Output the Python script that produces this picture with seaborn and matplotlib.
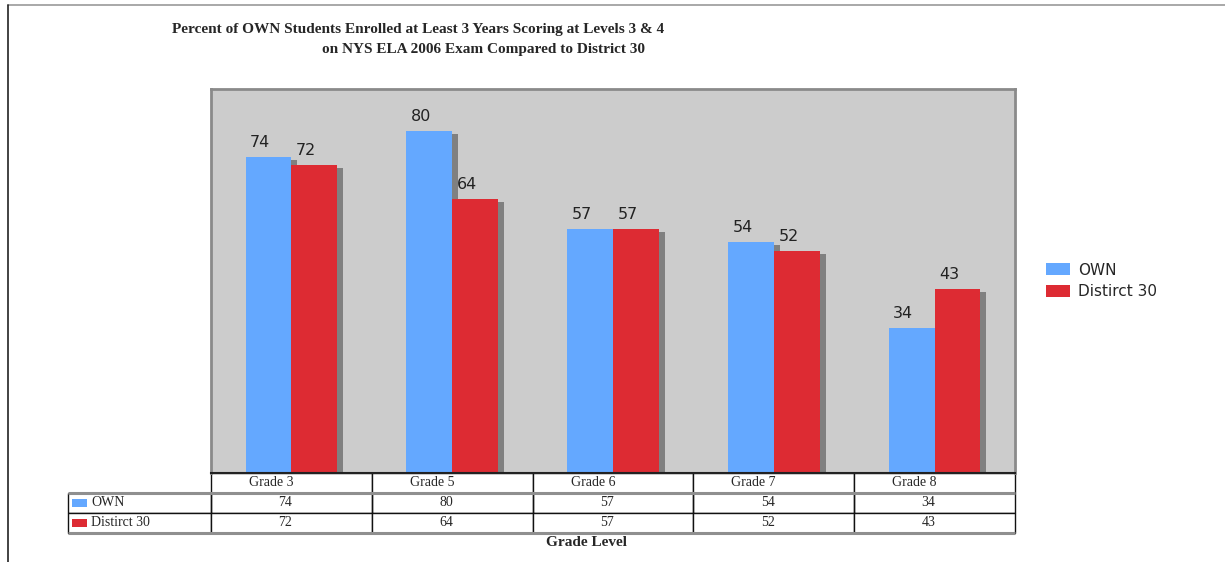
import pandas as pd
import matplotlib
matplotlib.use("Agg")
import matplotlib.pyplot as plt
import matplotlib.patheffects as pe
from matplotlib.patches import Rectangle
from matplotlib.lines import Line2D
import seaborn as sns

grades = ["Grade 3", "Grade 5", "Grade 6", "Grade 7", "Grade 8"]
own = [74, 80, 57, 54, 34]
district = [72, 64, 57, 52, 43]
series_names = ["OWN", "Distirct 30"]
colors = ["#64a8ff", "#dd2b33"]

df = pd.DataFrame({
    "Grade": grades * 2,
    "Percent": own + district,
    "School": [series_names[0]] * len(grades) + [series_names[1]] * len(grades),
})

sns.set_style("white")
fig = plt.figure(figsize=(12.25, 5.62), dpi=100)
ax = fig.add_axes([211 / 1225, 89 / 562, 804 / 1225, 384 / 562])
ax.set_facecolor("#cccccc")

sns.barplot(ax=ax, data=df, x="Grade", y="Percent", hue="School",
            palette=colors, width=0.57, saturation=1, legend=False)

shadow = [pe.SimplePatchShadow(offset=(4.3, -2.2), shadow_rgbFace="#808080", alpha=1.0), pe.Normal()]
for p in ax.patches:
    p.set_path_effects(shadow)
    p.set_edgecolor("none")
    ax.annotate(f"{p.get_height():.0f}", xy=(p.get_x() + p.get_width() / 2, p.get_height()),
                xytext=(-6, 5), textcoords="offset points", ha="center", va="bottom",
                fontsize=11.5, color="#222222")

ax.set_ylim(0, 89.8)
ax.set_xlim(-0.5, 4.5)
ax.set_xticks([])
ax.set_yticks([])
ax.set_xlabel("")
ax.set_ylabel("")
for s in ["top", "left", "right"]:
    ax.spines[s].set_color("#8a8a8a")
    ax.spines[s].set_linewidth(2)
    ax.spines[s].set_visible(True)
ax.spines["bottom"].set_color("#222222")
ax.spines["bottom"].set_linewidth(1.5)
ax.spines["bottom"].set_visible(True)

# data table under the plot (first column = series labels)
row_h = 20 / 384
tbl_left = -143 / 804
cells = [[series_names[0]] + [str(v) for v in own],
         [series_names[1]] + [str(v) for v in district]]
tbl = ax.table(cellText=cells, colLabels=[""] + grades, cellLoc="left", colLoc="left",
               colWidths=[143] + [160.8] * 5,
               bbox=[tbl_left, -3 * row_h, 947 / 804, 3 * row_h])
tbl.auto_set_font_size(False)
for (r, c), cell in tbl.get_celld().items():
    cell.set_edgecolor("#111111")
    cell.set_linewidth(1)
    cell.get_text().set_fontfamily("Liberation Serif")
    cell.get_text().set_fontsize(10)
    if c == 0:
        cell.PAD = 0.16
    elif r == 0:
        cell.PAD = 0.236
    else:
        cell.PAD = 0.42
    if r == 0 and c == 0:
        cell.visible_edges = "B"
        cell.set_edgecolor("#888888")
    elif r == 1:
        cell.visible_edges = "LRB"

fig.canvas.draw()
for i, col in enumerate(colors):
    cell = tbl.get_celld()[(i + 1, 0)]
    ax.add_patch(Rectangle((cell.get_x() + 4 / 804, cell.get_y() + cell.get_height() * 0.3),
                           15 / 804, 8 / 384, facecolor=col, edgecolor="none",
                           transform=ax.transAxes, clip_on=False))
# gray rules: under the header row and at the bottom of the table
y_sep = tbl.get_celld()[(1, 0)].get_y() + row_h
y_bot = tbl.get_celld()[(2, 0)].get_y()
for yy in (y_sep, y_bot):
    ax.plot([tbl_left, 1], [yy, yy], color="#8f8f8f", lw=2.2,
            transform=ax.transAxes, clip_on=False, solid_capstyle="butt")

fig.text(586 / 1225, 1 - 543 / 562, "Grade Level", ha="center", va="center",
         fontfamily="Liberation Serif", fontweight="bold", fontsize=11)

# title
fig.text(418 / 1225, 1 - 30 / 562,
         "Percent of OWN Students Enrolled at Least 3 Years Scoring at Levels 3 & 4",
         ha="center", va="center", fontfamily="Liberation Serif", fontweight="bold", fontsize=11)
fig.text(483.5 / 1225, 1 - 50 / 562, "on NYS ELA 2006 Exam Compared to District 30",
         ha="center", va="center", fontfamily="Liberation Serif", fontweight="bold", fontsize=11)

# legend
handles = [Rectangle((0, 0), 1, 1, facecolor=c, edgecolor="none") for c in colors]
fig.legend(handles, series_names, loc="center left", bbox_to_anchor=(1032 / 1225, 1 - 281 / 562),
           frameon=False, fontsize=11, handlelength=1.6, handleheight=0.8, labelspacing=0.45,
           handletextpad=0.5)

# outer frame
fig.add_artist(Line2D([8 / 1225, 1], [1 - 5 / 562, 1 - 5 / 562], color="#999999", lw=1.2))
fig.add_artist(Line2D([8 / 1225, 8 / 1225], [0, 1 - 5 / 562], color="#222222", lw=1.2))

fig.savefig("out.png", dpi=100, facecolor="white")
